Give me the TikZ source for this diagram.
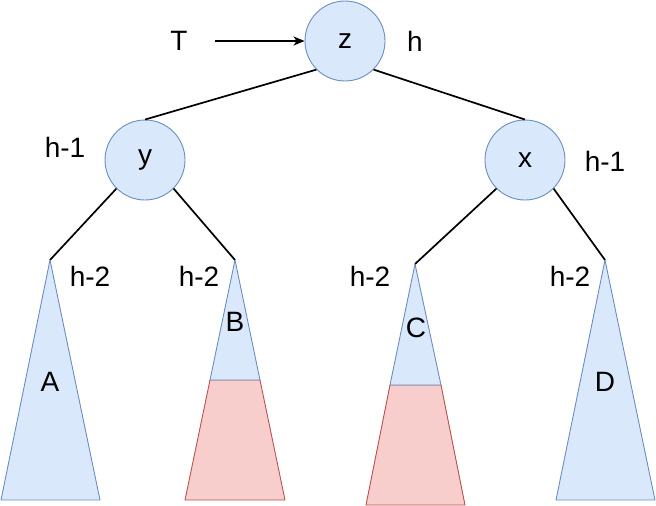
\documentclass[tikz,border=0pt]{standalone}
\usepackage{fontspec}
\setmainfont{Liberation Sans}
\usetikzlibrary{arrows.meta}
\definecolor{bfill}{HTML}{DAE8FC}
\definecolor{bline}{HTML}{6C8EBF}
\definecolor{rfill}{HTML}{F8CECC}
\definecolor{rline}{HTML}{B85450}
\tikzset{
  vert/.style={circle, draw=bline, fill=bfill, line width=0.9pt, minimum size=80pt, inner sep=0pt, font=\fontsize{28}{32}\selectfont},
  lbl/.style={inner sep=0pt, font=\fontsize{28}{32}\selectfont},
  edge/.style={line width=1.7pt, black},
  btri/.style={draw=bline, fill=bfill, line width=0.9pt, line join=round},
  rtrap/.style={draw=rline, fill=rfill, line width=0.9pt, line join=round},
}
\begin{document}
\begin{tikzpicture}[x=1pt, y=-1pt]
\useasboundingbox (0,0) rectangle (656,506);
% vertices
\node[vert] (z) at (345,41) {z};
\node[vert] (y) at (145,160) {y};
\node[vert] (x) at (525,160) {x};
% subtree apexes
\coordinate (aA) at (50,260);
\coordinate (aB) at (235,260);
\coordinate (aC) at (415,264);
\coordinate (aD) at (605,260);
% subtrees
\draw[btri] (aA) -- (1,500) -- (100,500) -- cycle;
\draw[rtrap] (210,380) -- (185,500) -- (285,500) -- (260,380) -- cycle;
\draw[btri] (aB) -- (210,380) -- (260,380) -- cycle;
\draw[rtrap] (390,385) -- (366,505) -- (465,505) -- (441,385) -- cycle;
\draw[btri] (aC) -- (390,385) -- (441,385) -- cycle;
\draw[btri] (aD) -- (556,500) -- (655,500) -- cycle;
\node[lbl] (lA) at (50,382) {A};
\node[lbl] (lB) at (235,322) {B};
\node[lbl] (lC) at (416,328) {C};
\node[lbl] (lD) at (605,382) {D};
% edges
\draw[edge] (z.south west) -- (y.north);
\draw[edge] (z.south east) -- (x.north);
\draw[edge] (y.south west) -- (aA);
\draw[edge] (y.south east) -- (aB);
\draw[edge] (x.south west) -- (aC);
\draw[edge] (x.south east) -- (aD);
% T pointer
\node[lbl] (T) at (179,41) {T};
\coordinate (ts) at (215,41);
\draw[line width=1.6pt, -{Stealth[length=11pt, width=9pt, inset=3pt]}] (ts) -- (z.west);
% heights
\node[lbl] (hz) at (415,41) {h};
\node[lbl] (hy) at (65,147) {h-1};
\node[lbl] (hx) at (605,161) {h-1};
\node[lbl] (hA) at (90,276) {h-2};
\node[lbl] (hB) at (199,276) {h-2};
\node[lbl] (hC) at (370,276) {h-2};
\node[lbl] (hD) at (570,276) {h-2};
\end{tikzpicture}
\end{document}
